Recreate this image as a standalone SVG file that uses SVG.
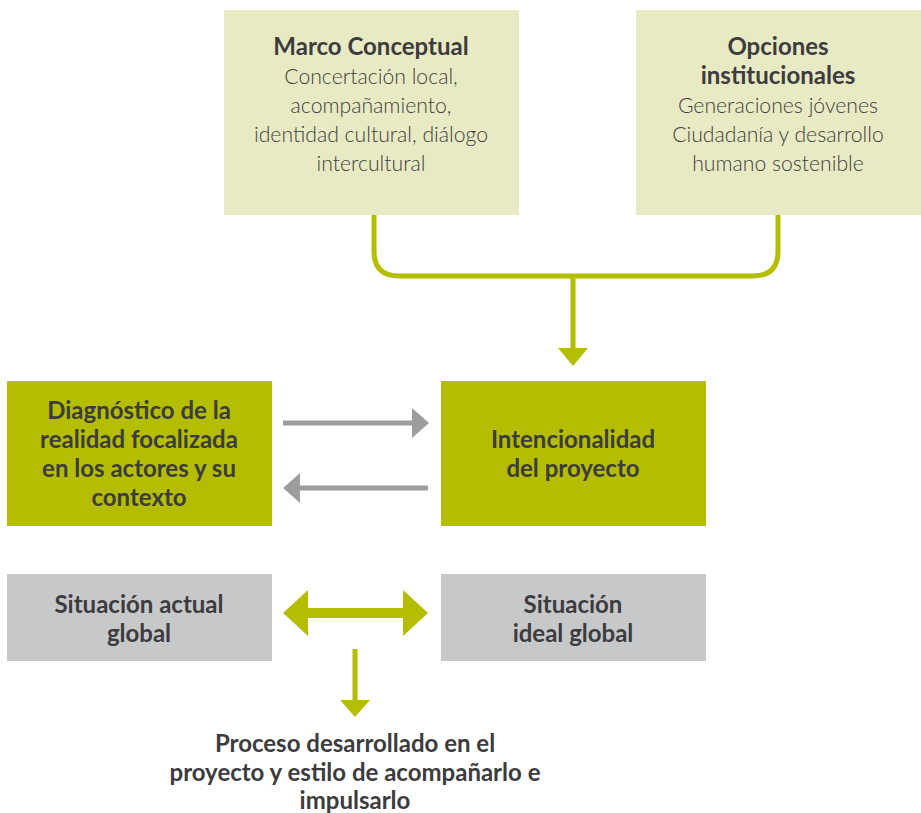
<svg xmlns="http://www.w3.org/2000/svg" width="921" height="813" viewBox="0 0 921 813">
<style>
text{font-family:Lato,"Open Sans","Liberation Sans",sans-serif;font-size:20px;fill:#3c3c3e;text-anchor:middle}
.b{font-weight:700;font-size:24px}
.l{font-weight:300;fill:#3e3e40;font-size:21.2px}
.light{fill:#e8eac3}
.green{fill:#b4bd00}
.gray{fill:#c7c8ca}
.conn{fill:none;stroke:#b4bd00;stroke-width:5}
.garr{fill:none;stroke:#9d9d9f;stroke-width:5}
</style>
<rect width="921" height="813" fill="#ffffff"/>
<g id="connectors">
<path class="conn" d="M374,215 V251 Q374,276 399,276 H753 Q778,276 778,251 V215"/>
<path class="conn" d="M573,276 V350"/>
<polygon fill="#b4bd00" points="558,348 588,348 573,366"/>
<path class="garr" d="M283,423 H414"/>
<polygon fill="#9d9d9f" points="412,408 429,423 412,438"/>
<path class="garr" d="M428,488 H298"/>
<polygon fill="#9d9d9f" points="300,473 283,488 300,503"/>
<polygon fill="#b4bd00" points="283,613 308,590 308,608 403,608 403,590 428,613 403,636 403,618 308,618 308,636"/>
<path class="conn" d="M355,649 V702"/>
<polygon fill="#b4bd00" points="340,700 370,700 355,717"/>
</g>
<g id="marco">
<rect class="light" x="224" y="10" width="295" height="205"/>
<text class="b" x="371" y="55">Marco Conceptual</text>
<text class="l" x="371" y="84">Concertación local,</text>
<text class="l" x="371" y="113">acompañamiento,</text>
<text class="l" x="371" y="142">identidad cultural, diálogo</text>
<text class="l" x="371" y="171">intercultural</text>
</g>
<g id="opciones">
<rect class="light" x="636" y="10" width="285" height="205"/>
<text class="b" x="778" y="55">Opciones</text>
<text class="b" x="778" y="84">institucionales</text>
<text class="l" x="778" y="113">Generaciones jóvenes</text>
<text class="l" x="778" y="142">Ciudadanía y desarrollo</text>
<text class="l" x="778" y="171">humano sostenible</text>
</g>
<g id="diagnostico">
<rect class="green" x="7" y="381" width="265" height="145"/>
<text class="b" x="139" y="419">Diagnóstico de la</text>
<text class="b" x="139" y="448">realidad focalizada</text>
<text class="b" x="139" y="477">en los actores y su</text>
<text class="b" x="139" y="506">contexto</text>
</g>
<g id="intencionalidad">
<rect class="green" x="441" y="381" width="265" height="145"/>
<text class="b" x="573" y="448">Intencionalidad</text>
<text class="b" x="573" y="477">del proyecto</text>
</g>
<g id="actual">
<rect class="gray" x="7" y="574" width="265" height="87"/>
<text class="b" x="139" y="613">Situación actual</text>
<text class="b" x="139" y="642">global</text>
</g>
<g id="ideal">
<rect class="gray" x="441" y="574" width="265" height="87"/>
<text class="b" x="573" y="613">Situación</text>
<text class="b" x="573" y="642">ideal global</text>
</g>
<g id="proceso">
<text class="b" x="355" y="752">Proceso desarrollado en el</text>
<text class="b" x="355" y="781">proyecto y estilo de acompañarlo e</text>
<text class="b" x="355" y="809">impulsarlo</text>
</g>
</svg>
